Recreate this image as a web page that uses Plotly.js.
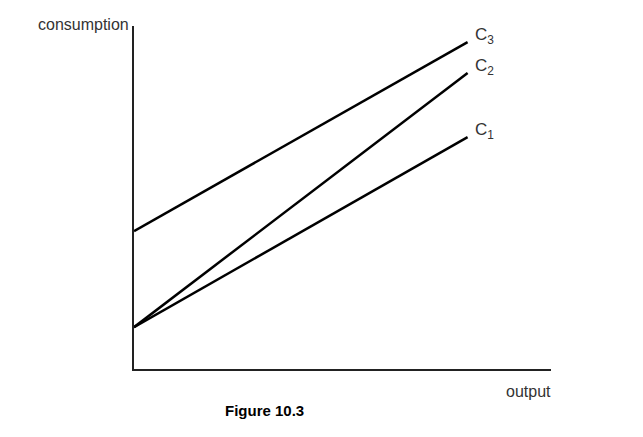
<!DOCTYPE html>
<html>
<head>
<meta charset="utf-8">
<script src="https://cdn.plot.ly/plotly-3.0.1.min.js"></script>
<style>html,body{margin:0;padding:0;background:#fff;}#chart{width:643px;height:437px;}</style>
</head>
<body>
<div id="chart"></div>
<script>
// Data (arbitrary units)
const outputX = [0, 8];
const c1Values = [1.22, 6.76];
const c2Values = [1.22, 8.63];
const c3Values = [4.02, 9.53];
const seriesNames = ["C1", "C2", "C3"];

const lineStyle = {color: '#000', width: 2.5};
const traces = [c1Values, c2Values, c3Values].map((v, i) => ({
  x: outputX, y: v, mode: 'lines', line: lineStyle, name: seriesNames[i],
  hoverinfo: 'skip', showlegend: false
}));

const fam = 'Liberation Sans, Arial, sans-serif';
const labelFont = {family: fam, size: 16, color: '#333'};
const endLabels = [c1Values, c2Values, c3Values].map((v, i) => ({
  x: outputX[1], y: v[1], xref: 'x', yref: 'y', text: 'C<sub>' + (i + 1) + '</sub>',
  showarrow: false, xanchor: 'left', yanchor: 'middle', xshift: 5, yshift: 6,
  font: {family: fam, size: 17, color: '#333'}
}));

const layout = {
  width: 643, height: 437,
  margin: {l: 134, r: 92, t: 26, b: 68, pad: 0},
  paper_bgcolor: '#fff', plot_bgcolor: '#fff',
  xaxis: {range: [0, 10], showline: true, linecolor: '#222', linewidth: 1.5,
          showgrid: false, zeroline: false, showticklabels: false, ticks: ''},
  yaxis: {range: [0, 10], showline: true, linecolor: '#222', linewidth: 1.5,
          showgrid: false, zeroline: false, showticklabels: false, ticks: ''},
  annotations: endLabels.concat([
    {text: 'consumption', xref: 'paper', yref: 'paper', x: -0.008, y: 1.003,
     xanchor: 'right', yanchor: 'middle', showarrow: false, font: labelFont},
    {text: 'output', xref: 'paper', yref: 'paper', x: 0.945, y: -0.067,
     xanchor: 'center', yanchor: 'middle', showarrow: false, font: labelFont},
    {text: '<b>Figure 10.3</b>', xref: 'paper', yref: 'paper', x: 0.314, y: -0.12,
     xanchor: 'center', yanchor: 'middle', showarrow: false,
     font: {family: fam, size: 15, color: '#000'}}
  ])
};

Plotly.newPlot('chart', traces, layout, {displayModeBar: false});
</script>
</body>
</html>
